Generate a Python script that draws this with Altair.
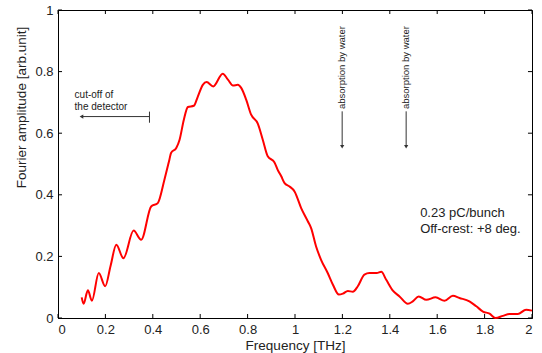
import altair as alt
import pandas as pd

# ---- data ----
freq = [0.100, 0.108, 0.126, 0.143, 0.172, 0.199, 0.222, 0.246, 0.276, 0.319, 0.351, 0.393,
        0.421, 0.449, 0.470, 0.477, 0.499, 0.513, 0.531, 0.548, 0.573, 0.590, 0.611, 0.627,
        0.655, 0.695, 0.717, 0.738, 0.759, 0.773, 0.794, 0.815, 0.843, 0.864, 0.885, 0.913,
        0.927, 0.942, 0.956, 0.977, 0.998, 1.026, 1.054, 1.068, 1.089, 1.110, 1.138, 1.160,
        1.185, 1.202, 1.223, 1.244, 1.265, 1.293, 1.314, 1.345, 1.364, 1.385, 1.413, 1.441,
        1.476, 1.497, 1.522, 1.554, 1.593, 1.631, 1.666, 1.694, 1.736, 1.765, 1.793, 1.821,
        1.846, 1.877, 1.905, 1.940, 1.975, 2.000]
amp = [0.067, 0.046, 0.090, 0.056, 0.146, 0.103, 0.170, 0.238, 0.194, 0.284, 0.254, 0.362,
       0.373, 0.449, 0.514, 0.536, 0.552, 0.579, 0.644, 0.685, 0.689, 0.719, 0.757, 0.766,
       0.752, 0.793, 0.774, 0.755, 0.757, 0.747, 0.709, 0.660, 0.631, 0.579, 0.525, 0.506,
       0.481, 0.460, 0.438, 0.427, 0.411, 0.357, 0.314, 0.292, 0.232, 0.189, 0.146, 0.108,
       0.076, 0.079, 0.088, 0.085, 0.103, 0.141, 0.146, 0.146, 0.150, 0.124, 0.089, 0.070,
       0.046, 0.054, 0.070, 0.059, 0.067, 0.056, 0.072, 0.065, 0.054, 0.038, 0.021, 0.014,
       0.000, 0.007, 0.013, 0.013, 0.027, 0.024]

x_ticks = [0, 0.2, 0.4, 0.6, 0.8, 1.0, 1.2, 1.4, 1.6, 1.8, 2.0]
y_ticks = [0, 0.2, 0.4, 0.6, 0.8, 1.0]

# annotation texts and anchor points (data units)
note_text = ["cut-off of", "the detector", "0.23 pC/bunch", "Off-crest: +8 deg."]
note_x = [0.070, 0.070, 1.528, 1.528]
note_y = [0.725, 0.684, 0.340, 0.290]

water_text = ["absorption by water", "absorption by water"]
water_x = [1.199, 1.469]
water_y = [0.813, 0.813]
water_arrow_top = [0.671, 0.671]
water_arrow_bot = [0.556, 0.556]

cut_arrow_x = [0.099, 0.386]
cut_arrow_y = 0.654
cut_bar_y = [0.634, 0.670]

FONT = "Liberation Sans"
TXT = "#222222"

xs = alt.Scale(domain=[0, 2], nice=False, zero=False)
ys = alt.Scale(domain=[0, 1], nice=False, zero=False)
xa = alt.Axis(values=x_ticks, format="~g", ticks=False, grid=False, domainColor="black",
              labelFont=FONT, labelFontSize=13, labelColor=TXT, labelPadding=5,
              titleFont=FONT, titleFontSize=13.5, titleFontWeight="normal", titleColor=TXT,
              titleY=31, titleBaseline="alphabetic")
ya = alt.Axis(values=y_ticks, format="~g", ticks=False, grid=False, domainColor="black",
              labelFont=FONT, labelFontSize=13, labelColor=TXT, labelPadding=5,
              titleFont=FONT, titleFontSize=13.5, titleFontWeight="normal", titleColor=TXT,
              titleX=-37, titleY=97, titleAngle=270, titleBaseline="middle", titleAlign="center")
XT = "Frequency [THz]"
YT = "Fourier amplitude [arb.unit]"


def X(f):
    return alt.X(f, type="quantitative", scale=xs, axis=xa, title=XT)


def Y(f):
    return alt.Y(f, type="quantitative", scale=ys, axis=ya, title=YT)


curve_df = pd.DataFrame({"f": freq, "a": amp})
curve = alt.Chart(curve_df).mark_line(color="#ff0000", strokeWidth=2, interpolate="monotone").encode(
    x=X("f"), y=Y("a"))

# inward ticks on all four sides
tx = len(x_ticks)
ty = len(y_ticks)
tick_df = pd.DataFrame({
    "x": x_ticks + x_ticks + [0.0] * ty + [2.0] * ty,
    "x2": x_ticks + x_ticks + [0.017] * ty + [1.983] * ty,
    "y": [0.0] * tx + [1.0] * tx + y_ticks + y_ticks,
    "y2": [0.013] * tx + [0.987] * tx + y_ticks + y_ticks,
})
ticks = alt.Chart(tick_df).mark_rule(color="black", strokeWidth=1).encode(
    x=X("x"), x2="x2", y=Y("y"), y2="y2")

notes_df = pd.DataFrame({"x": note_x, "y": note_y, "t": note_text,
                         "s": [10, 10, 13, 13]})
notes_small = alt.Chart(notes_df.iloc[:2]).mark_text(
    align="left", baseline="middle", font=FONT, fontSize=10, color=TXT).encode(
    x=X("x"), y=Y("y"), text="t")
notes_big = alt.Chart(notes_df.iloc[2:]).mark_text(
    align="left", baseline="middle", font=FONT, fontSize=13, color=TXT).encode(
    x=X("x"), y=Y("y"), text="t")

water_df = pd.DataFrame({"x": water_x, "y": water_y, "t": water_text,
                         "top": water_arrow_top, "bot": water_arrow_bot})
water_txt = alt.Chart(water_df).mark_text(
    angle=270, align="center", baseline="middle", font=FONT, fontSize=9.5, color=TXT).encode(
    x=X("x"), y=Y("y"), text="t")
water_line = alt.Chart(water_df).mark_rule(color="#333333", strokeWidth=1).encode(
    x=X("x"), y=Y("top"), y2="bot")
water_head = alt.Chart(water_df).mark_point(
    shape="triangle-down", filled=True, color="#333333", size=18, opacity=1).encode(
    x=X("x"), y=Y("bot"))

cut_df = pd.DataFrame({"x": [cut_arrow_x[0]], "x2": [cut_arrow_x[1]], "y": [cut_arrow_y],
                       "yb": [cut_bar_y[0]], "yb2": [cut_bar_y[1]]})
cut_line = alt.Chart(cut_df).mark_rule(color="#333333", strokeWidth=1).encode(
    x=X("x"), x2="x2", y=Y("y"))
cut_bar = alt.Chart(cut_df).mark_rule(color="#333333", strokeWidth=1).encode(
    x=X("x2"), y=Y("yb"), y2="yb2")
cut_head = alt.Chart(cut_df).mark_point(
    shape="triangle-left", filled=True, color="#333333", size=18, opacity=1).encode(
    x=X("x"), y=Y("y"))

chart = alt.layer(
    ticks, cut_line, cut_bar, cut_head, water_line, water_head,
    notes_small, notes_big, water_txt, curve
).properties(
    width=474, height=308,
    autosize=alt.AutoSizeParams(type="none"),
    padding={"left": 58, "top": 10, "right": 10, "bottom": 35},
    background="white",
).configure_view(stroke="black", strokeWidth=1)

chart.save("out.html", embed_options={"renderer": "svg", "actions": False})
